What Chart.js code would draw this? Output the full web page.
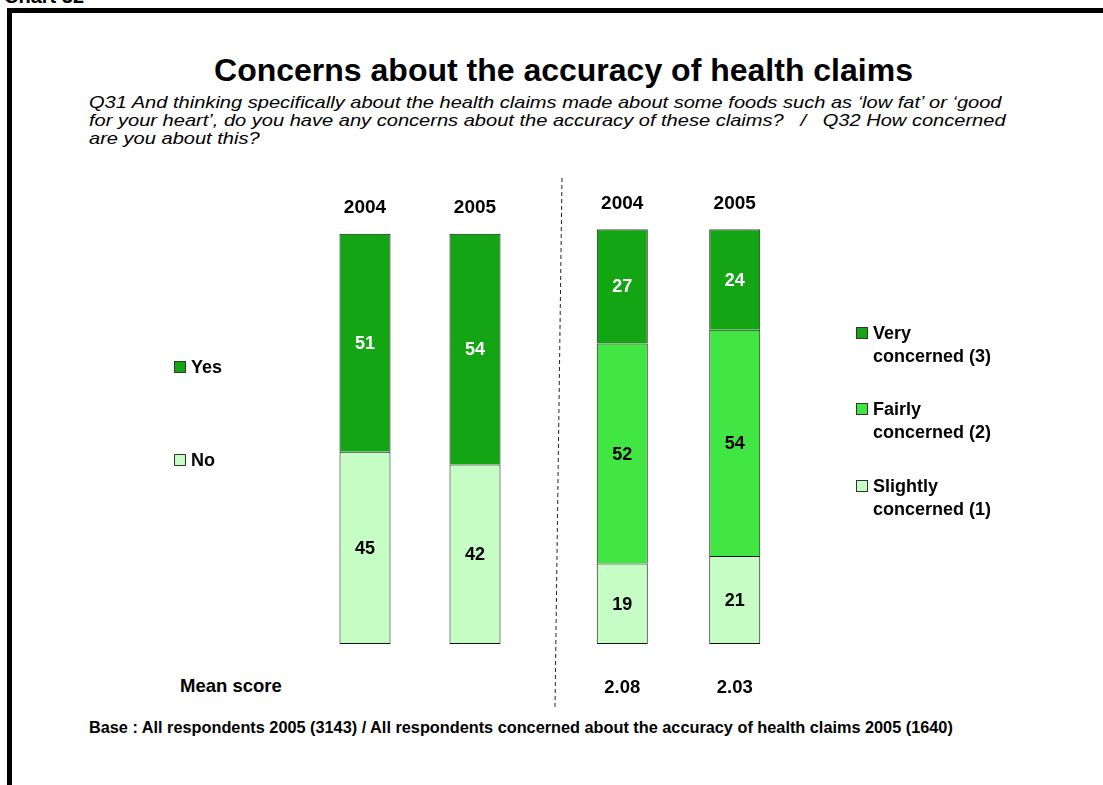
<!DOCTYPE html>
<html>
<head>
<meta charset="utf-8">
<script src="https://cdn.jsdelivr.net/npm/chart.js@4.4.1/dist/chart.umd.min.js"></script>
<style>
  body { margin: 0; width: 1103px; height: 785px; background: #fff; overflow: hidden;
         font-family: "Liberation Sans", Arial, sans-serif; color: #000; position: relative; }
  .abs { position: absolute; white-space: nowrap; }
  #frame { left: 7px; top: 8px; width: 1200px; height: 900px; border-left: 5px solid #000; border-top: 5px solid #000; }
  #chartNo { left: 4px; top: -15px; font-weight: bold; font-size: 20px; }
  #title { left: 0; width: 1127px; top: 52px; text-align: center; font-weight: bold; font-size: 32px; }
  #question { left: 89px; top: 94px; font-style: italic; font-size: 17px; line-height: 18px;
              transform: scaleX(1.18); transform-origin: 0 0; }
  #meanLabel { left: 180px; top: 675px; font-weight: bold; font-size: 18.5px; }
  #base { left: 89px; top: 718px; font-weight: bold; font-size: 16.3px; }
  .legend { font-weight: bold; font-size: 18px; line-height: 22.5px; }
  .legend .box { position: absolute; width: 10px; height: 10px; border: 1px solid #333; }
  canvas { position: absolute; left: 0; top: 0; }
</style>
</head>
<body>
<div id="frame" class="abs"></div>
<div id="chartNo" class="abs">Chart 32</div>
<div id="title" class="abs">Concerns about the accuracy of health claims</div>
<div id="question" class="abs">Q31 And thinking specifically about the health claims made about some foods such as ‘low fat’ or ‘good<br>for your heart’, do you have any concerns about the accuracy of these claims?&nbsp;&nbsp; /&nbsp;&nbsp; Q32 How concerned<br>are you about this?</div>
<div id="meanLabel" class="abs">Mean score</div>
<div id="base" class="abs">Base : All respondents 2005 (3143) / All respondents concerned about the accuracy of health claims 2005 (1640)</div>

<svg class="abs" style="left:0;top:0" width="1103" height="785">
  <line x1="562" y1="178" x2="555" y2="707" stroke="#222" stroke-width="1" stroke-dasharray="4 3"/>
</svg>

<canvas id="concernChart" width="1103" height="785"></canvas>
<canvas id="levelChart" width="1103" height="785"></canvas>

<script>
// survey years
const years = ['2004', '2005'];

// Q31: any concerns (%)
const yesValues = [51, 54];
const noValues = [45, 42];

// Q32: how concerned (%)
const veryValues = [27, 24];
const fairlyValues = [52, 54];
const slightlyValues = [19, 21];

const meanScores = ['2.08', '2.03'];

const concernNames = ['Yes', 'No'];
const levelNames = [['Very', 'concerned (3)'], ['Fairly', 'concerned (2)'], ['Slightly', 'concerned (1)']];

const DARK = '#14a514';
const MID = '#42e642';
const LIGHT = '#c5fdc5';

// columns are 100% stacked, so each segment is its share of the column total
function shares(series, all) {
    return series.map((v, i) => {
        const total = all.reduce((s, arr) => s + arr[i], 0);
        return v / total * 100;
    });
}

const segmentLabels = {
    id: 'segmentLabels',
    afterDatasetsDraw(chart) {
        const ctx = chart.ctx;
        ctx.save();
        ctx.font = 'bold 18px "Liberation Sans", Arial, sans-serif';
        ctx.textAlign = 'center';
        ctx.textBaseline = 'middle';
        chart.data.datasets.forEach((ds, di) => {
            chart.getDatasetMeta(di).data.forEach((bar, i) => {
                ctx.fillStyle = ds.labelColor;
                ctx.fillText(ds.raw[i], bar.x, (bar.y + bar.base) / 2 + 1);
            });
        });
        const means = chart.options.plugins.segmentLabels.means;
        if (means) {
            ctx.font = 'bold 18.5px "Liberation Sans", Arial, sans-serif';
            ctx.fillStyle = '#000';
            chart.getDatasetMeta(0).data.forEach((bar, i) => {
                ctx.fillText(means[i], bar.x, chart.chartArea.bottom + 44);
            });
        }
        ctx.restore();
    }
};

function makeDataset(label, values, all, color, textColor, bottom) {
    return {
        label: label,
        data: shares(values, all),
        raw: values,
        labelColor: textColor,
        backgroundColor: color,
        borderColor: '#111',
        borderWidth: 1,
        borderSkipped: bottom ? false : 'start'
    };
}

function baseOptions(padding, barPct, means) {
    return {
        responsive: false,
        animation: false,
        layout: { padding: padding },
        datasets: { bar: { categoryPercentage: 1, barPercentage: barPct } },
        plugins: {
            legend: { display: false },
            tooltip: { enabled: false },
            segmentLabels: { means: means }
        },
        scales: {
            x: {
                stacked: true,
                position: 'top',
                grid: { display: false, drawTicks: false },
                border: { display: false },
                ticks: { color: '#000', padding: 14.5, font: { size: 19, weight: 'bold', family: '"Liberation Sans", Arial' } }
            },
            y: { stacked: true, display: false, min: 0, max: 100 }
        }
    };
}

const concernAll = [yesValues, noValues];
new Chart(document.getElementById('concernChart'), {
    type: 'bar',
    data: {
        labels: years,
        datasets: [
            makeDataset(concernNames[1], noValues, concernAll, LIGHT, '#000', true),
            makeDataset(concernNames[0], yesValues, concernAll, DARK, '#fff', false)
        ]
    },
    options: baseOptions({ left: 310, right: 573, top: 182, bottom: 141 }, 51 / 110, null),
    plugins: [segmentLabels]
});

const levelAll = [veryValues, fairlyValues, slightlyValues];
new Chart(document.getElementById('levelChart'), {
    type: 'bar',
    data: {
        labels: years,
        datasets: [
            makeDataset(levelNames[2].join(' '), slightlyValues, levelAll, LIGHT, '#000', true),
            makeDataset(levelNames[1].join(' '), fairlyValues, levelAll, MID, '#000', false),
            makeDataset(levelNames[0].join(' '), veryValues, levelAll, DARK, '#fff', false)
        ]
    },
    options: baseOptions({ left: 566, right: 312, top: 177.5, bottom: 141 }, 51 / 112.5, meanScores),
    plugins: [segmentLabels]
});

// side legends
function addLegend(names, colors, x, tops) {
    names.forEach((name, i) => {
        const lines = Array.isArray(name) ? name : [name];
        const el = document.createElement('div');
        el.className = 'abs legend';
        el.style.left = x + 'px';
        el.style.top = tops[i] + 'px';
        el.innerHTML = '<span class="box" style="left:-17px;top:5px;background:' + colors[i] + '"></span>' + lines.join('<br>');
        document.body.appendChild(el);
    });
}
addLegend(concernNames, [DARK, LIGHT], 191, [356, 449]);
addLegend(levelNames, [DARK, MID, LIGHT], 873, [322, 398, 475]);
</script>
</body>
</html>
